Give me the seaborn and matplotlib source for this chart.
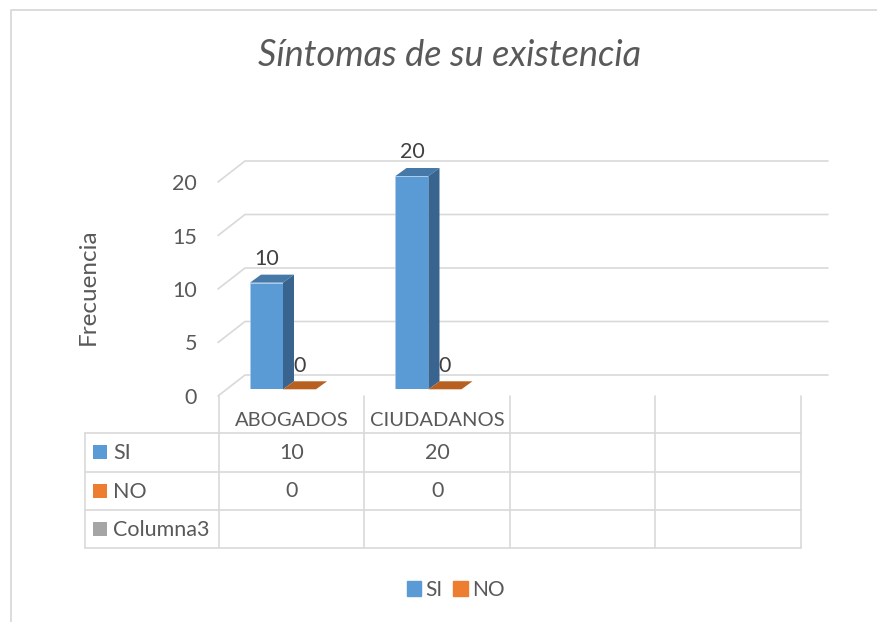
import matplotlib
matplotlib.use('Agg')
import matplotlib.pyplot as plt
from matplotlib.patches import Polygon, Rectangle, Patch
import pandas as pd
import seaborn as sns

title = 'Síntomas de su existencia'
ylabel = 'Frecuencia'
categories = ['ABOGADOS', 'CIUDADANOS']
series_names = ['SI', 'NO']
si_values = [10, 20]
no_values = [0, 0]
y_ticks = [0, 5, 10, 15, 20]
table_rows = ['SI', 'NO', 'Columna3']

W, H = 878, 622
BLUE, ORANGE, GREY = '#5B9BD5', '#ED7D31', '#A5A5A5'
LINE = '#D9D9D9'
TEXT = '#595959'

sns.set_theme(style='white')
plt.rcParams['font.family'] = ['Lato', 'DejaVu Sans']

df = pd.DataFrame({
    'categoria': categories * 2,
    'serie': [series_names[0]] * 2 + [series_names[1]] * 2,
    'valor': si_values + no_values,
})

fig = plt.figure(figsize=(W / 100, H / 100), dpi=100)


def axes_px(x0, y0, x1, y1):
    # box given in picture pixels, y going down
    return fig.add_axes([x0 / W, 1 - y1 / H, (x1 - x0) / W, (y1 - y0) / H])


# furniture in pixel coords
bg = fig.add_axes([0, 0, 1, 1], zorder=0)
bg.set_xlim(0, W)
bg.set_ylim(H, 0)
bg.axis('off')

bg.plot([11, 11, W], [H, 10, 10], color=LINE, lw=1.3)

# wall and floor lines, one per tick
for t in y_ticks:
    y = 396 - t * 10.7
    bg.plot([218, 245, 828], [y, y - 21, y - 21], color=LINE, lw=1.2)

# table
cols = [219, 364.5, 510, 655, 801]
rows = [433, 471.5, 510, 548]
for x in cols:
    bg.plot([x, x], [396, 548], color=LINE, lw=1.2)
bg.plot([85, 85], [433, 548], color=LINE, lw=1.2)
for y in rows:
    bg.plot([85, 801], [y, y], color=LINE, lw=1.2)

for i, cat in enumerate(categories):
    cx = (cols[i] + cols[i + 1]) / 2
    bg.text(cx, 420.5, cat, ha='center', va='center', color=TEXT, fontsize=14.5)
    bg.text(cx, 453, str(si_values[i]), ha='center', va='center', color=TEXT, fontsize=15.5)
    bg.text(cx, 491, str(no_values[i]), ha='center', va='center', color=TEXT, fontsize=15.5)

for name, color, y in zip(table_rows, [BLUE, ORANGE, GREY], rows):
    yc = y + 19
    bg.add_patch(Rectangle((93, yc - 7), 14, 14, color=color, lw=0))
    bg.text(113, yc + 1, name, ha='left', va='center', color=TEXT, fontsize=15.5)

bg.text(450, 55, title, ha='center', va='center', style='italic', color=TEXT, fontsize=26)

# y axis sits on the front edge of the wall
wall = axes_px(218, 182, 801, 396)
wall.patch.set_alpha(0)
wall.set_ylim(0, 20)
wall.set_yticks(y_ticks)
wall.set_xticks([])
wall.tick_params(axis='y', length=0, pad=15, labelsize=15.5, labelcolor=TEXT)
wall.set_ylabel(ylabel, fontsize=17.5, color=TEXT)
wall.yaxis.set_label_coords((99 - 218) / 583, 0.51)
sns.despine(ax=wall, left=True, bottom=True)

# bars
ax = axes_px(219, 176, 801, 389.3)
ax.patch.set_alpha(0)
sns.barplot(data=df, x='categoria', y='valor', hue='serie', order=categories + ['', ' '],
            hue_order=series_names, palette=[BLUE, ORANGE], saturation=1, width=66 / 145.5,
            edgecolor='#A9CCEB', linewidth=0.4, legend=False, ax=ax)
ax.set_xlim(-64 / 145.5, 4 - 64 / 145.5)
ax.set_ylim(0, 20)
ax.axis('off')

dx = 11 / 145.5
dy = 8 * 20 / 213.3
shades = [('#38648F', '#4679A8'), ('#8F4A18', '#B8601F')]
for container, (side, top) in zip(ax.containers, shades):
    for bar in container:
        x0, w, h = bar.get_x(), bar.get_width(), bar.get_height()
        x1 = x0 + w
        ax.add_patch(Polygon([(x0, h), (x1, h), (x1 + dx, h + dy), (x0 + dx, h + dy)],
                             color=top, lw=0, clip_on=False))
        if h > 0:
            ax.add_patch(Polygon([(x1, 0), (x1 + dx, dy), (x1 + dx, h + dy), (x1, h)],
                                 color=side, lw=0, clip_on=False))
        ax.annotate(f'{h:.0f}', (x0 + w / 2, h), xytext=(0, 17), textcoords='offset points',
                    ha='center', va='center', color='#404040', fontsize=15.5, annotation_clip=False)

# legend
handles = [Patch(color=BLUE, label=series_names[0]), Patch(color=ORANGE, label=series_names[1])]
fig.legend(handles=handles, loc='center', bbox_to_anchor=(455.5 / W, 1 - 590 / H), ncols=2, frameon=False,
           fontsize=15, labelcolor=TEXT, handlelength=0.7, handleheight=0.7, handletextpad=0.2, columnspacing=0.5)

fig.savefig('out.png', dpi=100)
